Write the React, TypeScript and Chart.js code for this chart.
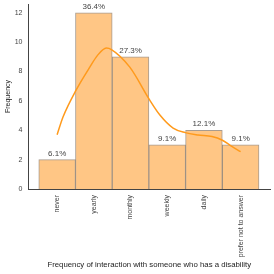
import React, { useEffect, useRef } from 'react';
import { Chart, registerables } from 'chart.js';

Chart.register(...registerables);

const categories = ['never', 'yearly', 'monthly', 'weekly', 'daily', 'prefer not to answer'];
const counts = [2, 12, 9, 3, 4, 3];
const kdeX = [0, 0.16, 0.52, 0.89, 1.1, 1.34, 1.48, 1.98, 2.52, 2.8, 3.16, 3.49, 3.84, 4.22, 4.49, 4.77, 5.0];
const kdeY = [3.7, 4.9, 6.75, 8.3, 9.1, 9.6, 9.5, 8.3, 6.07, 5.04, 4.15, 3.84, 3.68, 3.57, 3.34, 2.88, 2.54];
const yTicks = [0, 2, 4, 6, 8, 10, 12];

const FONT = "'Liberation Sans', Arial, sans-serif";

export default function App() {
  const ref = useRef<HTMLCanvasElement>(null);

  useEffect(() => {
    document.body.style.margin = '0';
    const canvas = ref.current;
    if (!canvas) return;
    const total = counts.reduce((a, b) => a + b, 0);

    const pctPlugin = {
      id: 'pctLabels',
      afterDatasetsDraw(chart: any) {
        const meta = chart.getDatasetMeta(1);
        const ctx = chart.ctx;
        ctx.save();
        ctx.font = `8px ${FONT}`;
        ctx.fillStyle = '#444444';
        ctx.textAlign = 'center';
        ctx.textBaseline = 'bottom';
        meta.data.forEach((bar: any, i: number) => {
          const pct = ((counts[i] / total) * 100).toFixed(1) + '%';
          ctx.fillText(pct, bar.x, bar.y - 2);
        });
        ctx.restore();
      },
    };

    const chart = new Chart(canvas, {
      type: 'bar',
      data: {
        datasets: [
          {
            type: 'line',
            data: kdeX.map((x, i) => ({ x, y: kdeY[i] })),
            borderColor: '#ff9a1c',
            borderWidth: 1.5,
            pointRadius: 0,
            cubicInterpolationMode: 'monotone',
            fill: false,
            order: 0,
          } as any,
          {
            type: 'bar',
            data: counts.map((c, i) => ({ x: i, y: c })),
            backgroundColor: '#ffc685',
            borderColor: 'rgba(110, 90, 70, 0.6)',
            borderWidth: 1,
            barPercentage: 1,
            categoryPercentage: 1,
            order: 1,
          } as any,
        ],
      },
      options: {
        animation: false,
        responsive: false,
        layout: { padding: { top: 0, right: 4, bottom: 0, left: 1 } },
        plugins: { legend: { display: false }, tooltip: { enabled: false } },
        scales: {
          x: {
            type: 'linear',
            offset: false,
            min: -0.78,
            max: 5.8,
            grid: { display: false, drawTicks: false },
            border: { display: true, color: '#444444', width: 1 },
            afterBuildTicks: (axis: any) => {
              axis.ticks = categories.map((_, i) => ({ value: i }));
            },
            afterFit: (axis: any) => {
              axis.height = 85;
            },
            ticks: {
              autoSkip: false,
              minRotation: 90,
              maxRotation: 90,
              padding: 6,
              color: '#444444',
              font: { size: 7, family: FONT },
              callback: (v: any) => categories[Math.round(Number(v))] ?? '',
            },
            title: {
              display: true,
              text: 'Frequency of interaction with someone who has a disability',
              color: '#222222',
              font: { size: 7.8, family: FONT },
              padding: { top: 0, bottom: 4.3 },
            },
          },
          y: {
            type: 'linear',
            min: 0,
            max: 12.6,
            grid: { display: false, drawTicks: false },
            border: { display: true, color: '#444444', width: 1 },
            afterBuildTicks: (axis: any) => {
              axis.ticks = yTicks.map((v) => ({ value: v }));
            },
            afterFit: (axis: any) => {
              axis.width = 27.5;
              axis.paddingTop = 4;
              axis.paddingBottom = 0;
            },
            ticks: {
              padding: 6,
              color: '#444444',
              font: { size: 7, family: FONT },
            },
            title: {
              display: true,
              text: 'Frequency',
              color: '#222222',
              font: { size: 7, family: FONT },
              padding: { top: 2.8, bottom: 0 },
            },
          },
        },
      },
      plugins: [pctPlugin],
    });
    return () => chart.destroy();
  }, []);

  return (
    <div style={{ width: 274, height: 274 }}>
      <canvas ref={ref} width={274} height={274} />
    </div>
  );
}
